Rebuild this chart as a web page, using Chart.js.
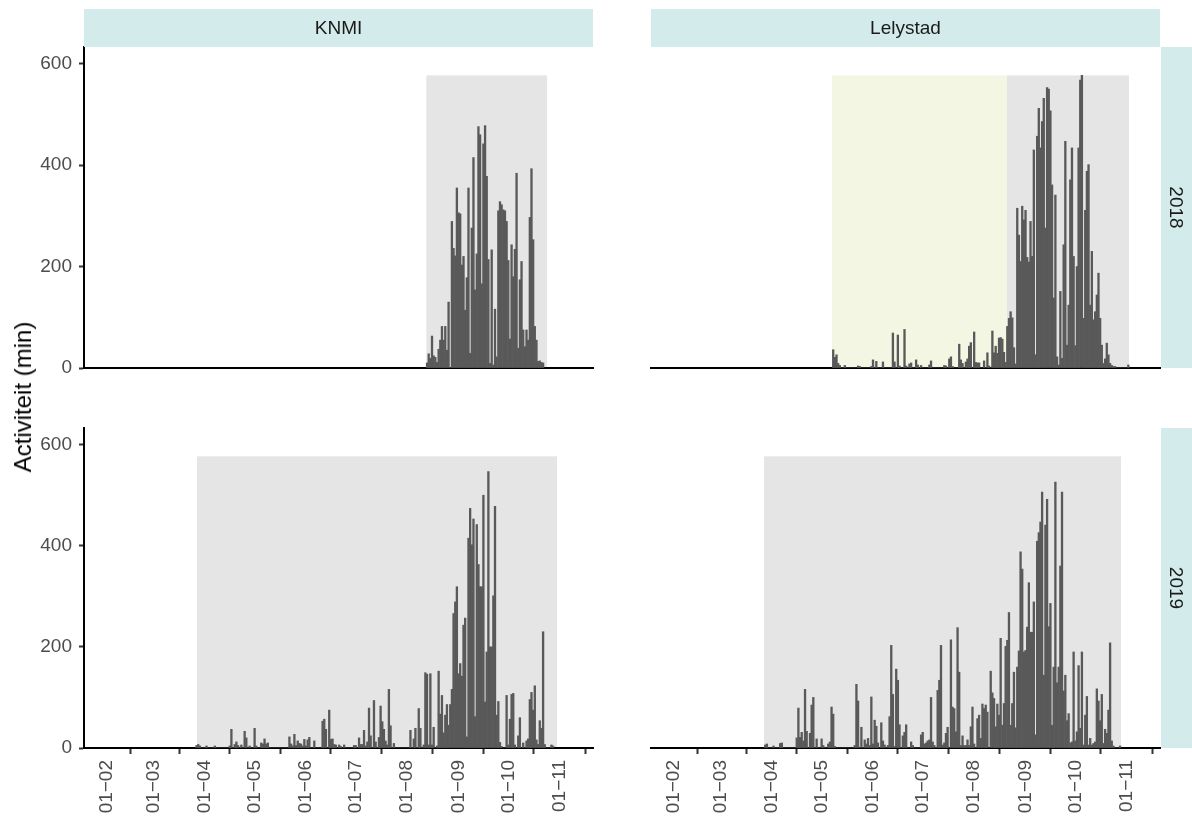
<!DOCTYPE html>
<html>
<head>
<meta charset="utf-8">
<script src="https://cdn.jsdelivr.net/npm/chart.js@4.4.1/dist/chart.umd.min.js"></script>
<style>
  body { margin: 0; background: #fff; width: 1192px; height: 818px; position: relative; overflow: hidden;
         font-family: "Liberation Sans", Arial, sans-serif; }
  canvas { position: absolute; }
  #ytitle { position: absolute; left: 23px; top: 397px; transform: translate(-50%, -50%) rotate(-90deg);
            font-size: 24px; white-space: nowrap; color: #000; }
</style>
</head>
<body>
<canvas id="knmi2018" width="600" height="388" style="left:0;top:0"></canvas>
<canvas id="lelystad2018" width="592" height="388" style="left:600px;top:0"></canvas>
<canvas id="knmi2019" width="600" height="438" style="left:0;top:380px"></canvas>
<canvas id="lelystad2019" width="592" height="438" style="left:600px;top:380px"></canvas>
<div id="ytitle">Activiteit (min)</div>
<script>
// x axis = day of year (0 = 1 Jan), ticks on the first of each month
const tickDays = [31, 59, 90, 120, 151, 181, 212, 243, 273, 304];
const tickLabels = ['01−02', '01−03', '01−04', '01−05', '01−06', '01−07', '01−08', '01−09', '01−10', '01−11'];
const yTicks = [0, 200, 400, 600];

// daily activity in minutes, first value is on day `...Start`
const knmi2018Start = 224;
const knmi2018 = [
  10, 28, 19, 63, 24, 21, 11, 37, 55, 82,
  55, 82, 35, 130, 1, 289, 236, 221, 355, 306,
  304, 203, 220, 114, 178, 355, 29, 276, 415, 154,
  225, 476, 460, 166, 442, 478, 378, 214, 9, 233,
  6, 116, 22, 310, 328, 322, 312, 310, 289, 212,
  57, 243, 180, 234, 384, 39, 174, 210, 75, 42,
  75, 55, 297, 393, 253, 82, 55, 13, 14, 11,
  10
];

const lelystad2018Start = 127;
const lelystad2018 = [
  36, 21, 26, 9, 5, 0, 0, 5, 0, 0,
  0, 0, 0, 0, 0, 4, 3, 0, 0, 0,
  0, 0, 0, 3, 16, 0, 13, 0, 0, 0,
  12, 0, 0, 0, 0, 0, 69, 12, 0, 65,
  4, 0, 0, 76, 4, 0, 8, 10, 0, 0,
  16, 6, 0, 5, 0, 0, 0, 0, 6, 14,
  0, 0, 0, 0, 0, 0, 0, 5, 4, 0,
  18, 22, 3, 0, 0, 0, 47, 16, 9, 0,
  12, 18, 43, 50, 0, 71, 11, 10, 10, 0,
  0, 14, 0, 30, 4, 0, 73, 30, 43, 29,
  59, 60, 57, 31, 11, 82, 98, 111, 99, 40,
  8, 315, 262, 210, 319, 292, 311, 218, 209, 289,
  220, 430, 26, 457, 512, 434, 486, 532, 276, 553,
  550, 507, 361, 138, 341, 22, 6, 151, 19, 243,
  447, 45, 124, 371, 434, 220, 44, 200, 434, 568,
  577, 98, 311, 388, 401, 124, 230, 95, 111, 144,
  187, 98, 45, 9, 18, 49, 26, 9, 5, 3,
  3, 0, 0, 0, 0, 0, 0, 0, 6
];

const knmi2019Start = 85;
const knmi2019 = [
  5, 7, 4, 0, 0, 0, 4, 0, 0, 0,
  0, 4, 0, 0, 0, 0, 0, 0, 0, 0,
  4, 37, 0, 7, 12, 5, 0, 6, 0, 33,
  20, 0, 4, 0, 0, 39, 4, 0, 0, 10,
  8, 18, 8, 10, 0, 0, 0, 0, 0, 0,
  0, 0, 0, 0, 0, 0, 22, 8, 4, 27,
  5, 14, 9, 8, 4, 17, 4, 16, 21, 0,
  0, 14, 0, 0, 0, 0, 53, 57, 37, 0,
  75, 17, 18, 7, 6, 0, 6, 3, 0, 6,
  0, 0, 0, 0, 0, 5, 5, 0, 20, 7,
  7, 35, 4, 12, 79, 24, 0, 94, 12, 0,
  21, 83, 52, 37, 14, 6, 116, 44, 0, 9,
  0, 0, 0, 0, 0, 0, 0, 0, 0, 35,
  0, 18, 39, 0, 78, 39, 0, 6, 149, 146,
  6, 147, 6, 41, 0, 4, 152, 67, 104, 30,
  65, 86, 45, 86, 116, 266, 289, 319, 147, 167,
  142, 243, 257, 22, 415, 474, 402, 453, 62, 442,
  363, 319, 319, 500, 91, 190, 547, 200, 200, 301,
  478, 65, 92, 11, 3, 0, 0, 104, 6, 57,
  106, 108, 6, 0, 24, 60, 0, 10, 0, 14,
  18, 96, 110, 75, 123, 16, 7, 54, 39, 230,
  7, 0, 0, 0, 6, 4
];

const lelystad2019Start = 86;
const lelystad2019 = [
  6, 8, 0, 0, 0, 4, 0, 0, 0, 9,
  10, 0, 0, 0, 0, 0, 0, 0, 0, 20,
  79, 21, 31, 14, 116, 33, 0, 29, 85, 100,
  0, 18, 0, 0, 18, 5, 0, 0, 8, 12,
  81, 67, 3, 0, 0, 0, 0, 0, 0, 0,
  0, 0, 0, 0, 5, 126, 93, 0, 41, 0,
  16, 8, 19, 5, 101, 8, 55, 43, 10, 0,
  50, 14, 6, 0, 5, 62, 203, 106, 3, 156,
  134, 46, 0, 24, 31, 46, 0, 0, 12, 5,
  0, 0, 0, 0, 26, 31, 8, 10, 14, 16,
  100, 12, 5, 0, 114, 134, 203, 6, 10, 29,
  41, 0, 214, 81, 78, 32, 238, 150, 5, 24,
  5, 5, 16, 5, 42, 81, 8, 0, 58, 65,
  19, 87, 78, 85, 71, 0, 152, 109, 98, 42,
  87, 65, 217, 45, 88, 201, 213, 268, 45, 88,
  150, 40, 160, 192, 388, 354, 190, 193, 239, 327,
  229, 229, 289, 26, 409, 426, 447, 506, 144, 441,
  492, 240, 286, 45, 160, 526, 129, 160, 360, 506,
  113, 144, 54, 68, 10, 12, 190, 14, 32, 163,
  39, 190, 6, 65, 102, 6, 19, 6, 9, 12,
  117, 93, 54, 106, 9, 37, 29, 75, 208, 14,
  4, 0, 0, 0, 4
];

// measuring periods: [from day, to day, kind]
const knmi2018Periods = [[223.6, 296.4, 'main']];
const lelystad2018Periods = [[126.3, 231.8, 'early'], [231.8, 305.4, 'main']];
const knmi2019Periods = [[85.3, 302.4, 'main']];
const lelystad2019Periods = [[85.3, 300.6, 'main']];
const periodTop = 577;

const periodFill = { main: '#e5e5e5', early: '#f3f6e2' };
const stripFill = '#d3ebea';
const font = '"Liberation Sans", Arial, sans-serif';
Chart.defaults.font.family = font;

const periodsPlugin = {
  id: 'periods',
  beforeDraw(chart, args, opts) {
    const { ctx, chartArea: a, scales: { x, y } } = chart;
    ctx.save();
    ctx.beginPath();
    ctx.rect(a.left, a.top, a.right - a.left, a.bottom - a.top);
    ctx.clip();
    opts.list.forEach(([from, to, kind]) => {
      const x0 = x.getPixelForValue(from), x1 = x.getPixelForValue(to);
      const y0 = y.getPixelForValue(periodTop), y1 = y.getPixelForValue(0);
      ctx.fillStyle = periodFill[kind];
      ctx.fillRect(x0, y0, x1 - x0, y1 - y0);
    });
    ctx.restore();
  }
};

const stripsPlugin = {
  id: 'strips',
  afterDraw(chart, args, opts) {
    const { ctx, chartArea: a } = chart;
    ctx.save();
    ctx.font = '19px ' + font;
    ctx.textAlign = 'center';
    ctx.textBaseline = 'middle';
    if (opts.top) {
      ctx.fillStyle = stripFill;
      ctx.fillRect(a.left, 9, a.right - a.left, a.top - 9);
      ctx.fillStyle = '#1a1a1a';
      ctx.fillText(opts.top, (a.left + a.right) / 2, (9 + a.top) / 2 + 1);
    }
    if (opts.side) {
      const x0 = a.right + 1;
      ctx.fillStyle = stripFill;
      ctx.fillRect(x0, a.top, chart.width - x0, a.bottom - a.top);
      ctx.fillStyle = '#1a1a1a';
      ctx.translate((x0 + chart.width) / 2 - 1, (a.top + a.bottom) / 2);
      ctx.rotate(Math.PI / 2);
      ctx.fillText(opts.side, 0, 0);
    }
    ctx.restore();
  }
};

function panel(id, start, values, periods, o) {
  const points = values.map((v, i) => ({ x: start + i, y: v }));
  new Chart(document.getElementById(id), {
    type: 'bar',
    data: {
      datasets: [{
        data: points,
        backgroundColor: '#595959',
        borderWidth: 0,
        barPercentage: 1,
        categoryPercentage: 1
      }]
    },
    options: {
      responsive: false,
      animation: false,
      devicePixelRatio: 1,
      layout: { padding: { top: o.top, right: o.right, left: 0, bottom: 0 } },
      plugins: {
        legend: { display: false },
        tooltip: { enabled: false },
        periods: { list: periods },
        strips: { top: o.stripTop, side: o.stripSide }
      },
      scales: {
        x: {
          type: 'linear',
          min: 17.1,
          max: 324.1,
          offset: false,
          afterBuildTicks: s => { s.ticks = tickDays.map(v => ({ value: v })); },
          afterFit: s => { s.height = o.xHeight; },
          grid: { drawOnChartArea: false, drawTicks: o.xLabels, tickLength: 6, tickColor: '#333', tickWidth: 2 },
          border: { display: true, color: '#000', width: 2 },
          ticks: {
            display: o.xLabels,
            autoSkip: false,
            minRotation: 90,
            maxRotation: 90,
            padding: 6,
            color: '#4d4d4d',
            font: { size: 19 },
            callback: v => tickLabels[tickDays.indexOf(v)]
          }
        },
        y: {
          min: 0,
          max: 633,
          afterBuildTicks: s => { s.ticks = yTicks.map(v => ({ value: v })); },
          afterFit: s => { s.width = o.yWidth; },
          grid: { drawOnChartArea: false, drawTicks: o.yLabels, tickLength: 5, tickColor: '#333', tickWidth: 2 },
          border: { display: o.yLabels, color: '#000', width: 2 },
          ticks: { display: o.yLabels, padding: 7, color: '#4d4d4d', font: { size: 19 } }
        }
      }
    },
    plugins: [periodsPlugin, stripsPlugin]
  });
}

panel('knmi2018', knmi2018Start, knmi2018, knmi2018Periods,
  { top: 47, right: 7, xHeight: 20, yWidth: 84, xLabels: false, yLabels: true, stripTop: 'KNMI' });
panel('lelystad2018', lelystad2018Start, lelystad2018, lelystad2018Periods,
  { top: 47, right: 32, xHeight: 20, yWidth: 51, xLabels: false, yLabels: false, stripTop: 'Lelystad', stripSide: '2018' });
panel('knmi2019', knmi2019Start, knmi2019, knmi2019Periods,
  { top: 48, right: 7, xHeight: 70, yWidth: 84, xLabels: true, yLabels: true });
panel('lelystad2019', lelystad2019Start, lelystad2019, lelystad2019Periods,
  { top: 48, right: 32, xHeight: 70, yWidth: 51, xLabels: true, yLabels: false, stripSide: '2019' });
</script>
</body>
</html>
